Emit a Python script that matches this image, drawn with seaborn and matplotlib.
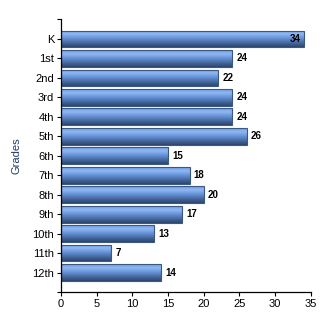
import numpy as np
import pandas as pd
import matplotlib
matplotlib.use("Agg")
import matplotlib.pyplot as plt
import seaborn as sns
from matplotlib.colors import LinearSegmentedColormap

grades = ["K", "1st", "2nd", "3rd", "4th", "5th", "6th", "7th", "8th", "9th", "10th", "11th", "12th"]
students = [34, 24, 22, 24, 24, 26, 15, 18, 20, 17, 13, 7, 14]
x_ticks = [0, 5, 10, 15, 20, 25, 30, 35]

df = pd.DataFrame({"Grade": grades, "Count": students})

sns.set_style("white")
plt.rcParams["font.family"] = ["Liberation Sans", "DejaVu Sans"]

fig = plt.figure(figsize=(3.3, 3.3), dpi=100)
ax = fig.add_axes([0.185, 0.115, 0.757, 0.826])

sns.barplot(data=df, x="Count", y="Grade", orient="h", ax=ax,
            color="#5b8bd6", edgecolor="#3a5880", linewidth=0.8, width=0.86)

cmap = LinearSegmentedColormap.from_list(
    "bar", [(0.0, "#6f9ee6"), (0.22, "#8fb8f2"), (0.45, "#6a96dc"),
            (0.75, "#46699f"), (1.0, "#2c4670")])
grad = np.linspace(0, 1, 64).reshape(-1, 1)

ax.set_xlim(0, 35)
ax.set_ylim(len(grades), -1)

for p, v in zip(ax.patches, students):
    x0, y0 = p.get_x(), p.get_y()
    w, h = p.get_width(), p.get_height()
    im = ax.imshow(grad, cmap=cmap, aspect="auto",
                   extent=(x0, x0 + w, y0 + h, y0), zorder=p.get_zorder() + 0.1,
                   interpolation="bilinear")
    im.set_clip_path(p)
    p.set_facecolor("none")
    p.set_zorder(p.get_zorder() + 0.2)
    yc = y0 + h / 2
    if v >= 33:
        ax.text(x0 + w - 0.4, yc, str(v), ha="right", va="center",
                fontsize=7, fontweight="bold", color="black", zorder=5)
    else:
        ax.text(x0 + w + 0.6, yc, str(v), ha="left", va="center",
                fontsize=7, fontweight="bold", color="black", zorder=5)

ax.set_xlim(0, 35)
ax.set_ylim(len(grades), -1)
ax.set_xticks(x_ticks)
ax.set_xticklabels([str(t) for t in x_ticks])
ax.set_yticks(list(range(-1, len(grades) + 1)))
ax.set_yticklabels([""] + grades + [""])

ax.tick_params(axis="both", which="both", direction="out", length=3, width=0.8,
               colors="black", labelsize=8, pad=2, left=True, bottom=True)
for s in ["top", "right"]:
    ax.spines[s].set_visible(False)
for s in ["left", "bottom"]:
    ax.spines[s].set_color("black")
    ax.spines[s].set_linewidth(0.9)

ax.set_xlabel("")
ax.set_ylabel("Grades", fontsize=8, color="#1f3a68", labelpad=8)

fig.savefig("out.png", dpi=100, facecolor="white")
